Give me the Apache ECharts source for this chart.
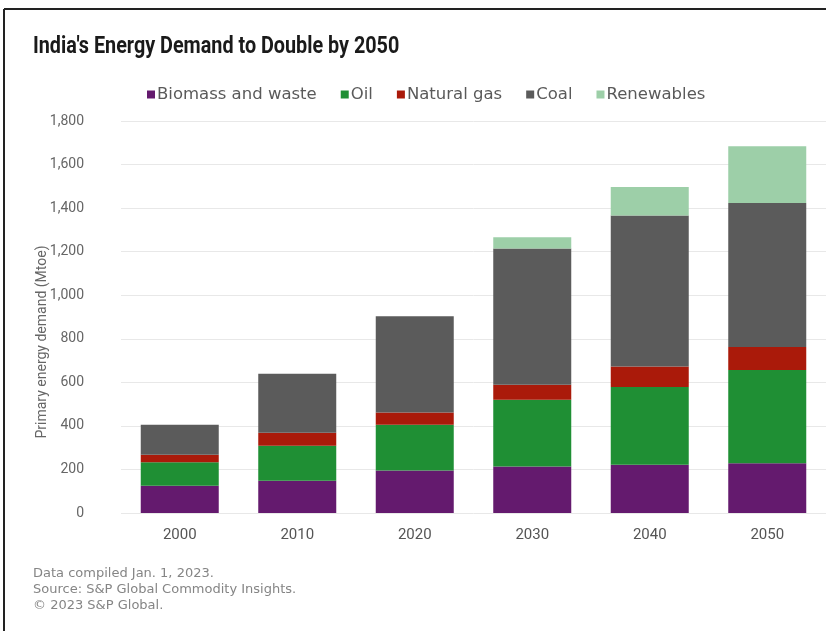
<!DOCTYPE html>
<html>
<head>
<meta charset="utf-8">
<script src="https://cdn.jsdelivr.net/npm/echarts@6/dist/echarts.min.js"></script>
<style>
  html, body { margin: 0; padding: 0; background: #fff; }
  #chart { width: 826px; height: 631px; }
</style>
</head>
<body>
<div id="chart"></div>
<script>
// Primary energy demand by fuel, Mtoe
const years = ['2000', '2010', '2020', '2030', '2040', '2050'];
const biomass = [125, 148, 195, 213, 221, 229];
const oil = [108, 161, 210, 307, 357, 428];
const gas = [34, 60, 56, 69, 95, 105];
const coal = [138, 270, 442, 625, 693, 662];
const renewables = [0, 0, 0, 52, 131, 260];
const yTicks = { min: 0, max: 1800, step: 200 };

const seriesNames = ['Biomass and waste', 'Oil', 'Natural gas', 'Coal', 'Renewables'];
const seriesColors = ['#641a6e', '#1f8f34', '#aa1a0a', '#5b5b5b', '#9dcfa8'];
const seriesData = [biomass, oil, gas, coal, renewables];

const font = 'Roboto, "Liberation Sans", sans-serif';
const wideFont = '"DejaVu Sans", "Liberation Sans", sans-serif';
const chart = echarts.init(document.getElementById('chart'), null, { renderer: 'canvas' });

chart.setOption({
  backgroundColor: '#ffffff',
  animation: false,
  color: seriesColors,
  legend: {
    data: seriesNames,
    left: 142, top: 81,
    icon: 'rect', itemWidth: 8, itemHeight: 8, itemGap: 24,
    textStyle: { fontFamily: wideFont, fontSize: 16.5, color: '#5a5a5a', padding: [0, 0, 0, -3] }
  },
  grid: { left: 121, right: 0, top: 121, bottom: 118, containLabel: false },
  xAxis: {
    type: 'category',
    data: years,
    axisLine: { show: false },
    axisTick: { show: false },
    axisLabel: { fontFamily: font, fontSize: 15, color: '#555', margin: 15 }
  },
  yAxis: {
    type: 'value',
    min: yTicks.min, max: yTicks.max, interval: yTicks.step,
    axisLine: { show: false },
    axisTick: { show: false },
    splitLine: { lineStyle: { color: '#e8e8e8', width: 1 } },
    axisLabel: {
      fontFamily: font, fontSize: 14, color: '#666', margin: 37,
      formatter: v => v.toLocaleString('en-US')
    }
  },
  graphic: [
    { type: 'line', shape: { x1: 4, y1: 9, x2: 826, y2: 9 }, style: { stroke: '#222', lineWidth: 2 } },
    { type: 'line', shape: { x1: 4, y1: 9, x2: 4, y2: 631 }, style: { stroke: '#222', lineWidth: 2 } },
    {
      type: 'text', x: 33, y: 47, scaleX: 0.86,
      style: {
        text: "India's Energy Demand to Double by 2050", fill: '#1a1a1a',
        font: 'bold 23px ' + font, textVerticalAlign: 'middle'
      }
    },
    {
      type: 'text', x: 42, y: 342, rotation: Math.PI / 2,
      style: {
        text: 'Primary energy demand (Mtoe)', fill: '#666',
        font: '14px ' + font, textAlign: 'center', textVerticalAlign: 'middle'
      }
    },
    {
      type: 'text', x: 33, y: 566,
      style: {
        text: 'Data compiled Jan. 1, 2023.\nSource: S&P Global Commodity Insights.\n\u00A9 2023 S&P Global.',
        fill: '#858585', font: '13px ' + wideFont, lineHeight: 16
      }
    }
  ],
  series: seriesNames.map((name, i) => ({
    name,
    type: 'bar',
    stack: 'total',
    barWidth: 78,
    itemStyle: { color: seriesColors[i] },
    data: seriesData[i]
  }))
});
</script>
</body>
</html>
